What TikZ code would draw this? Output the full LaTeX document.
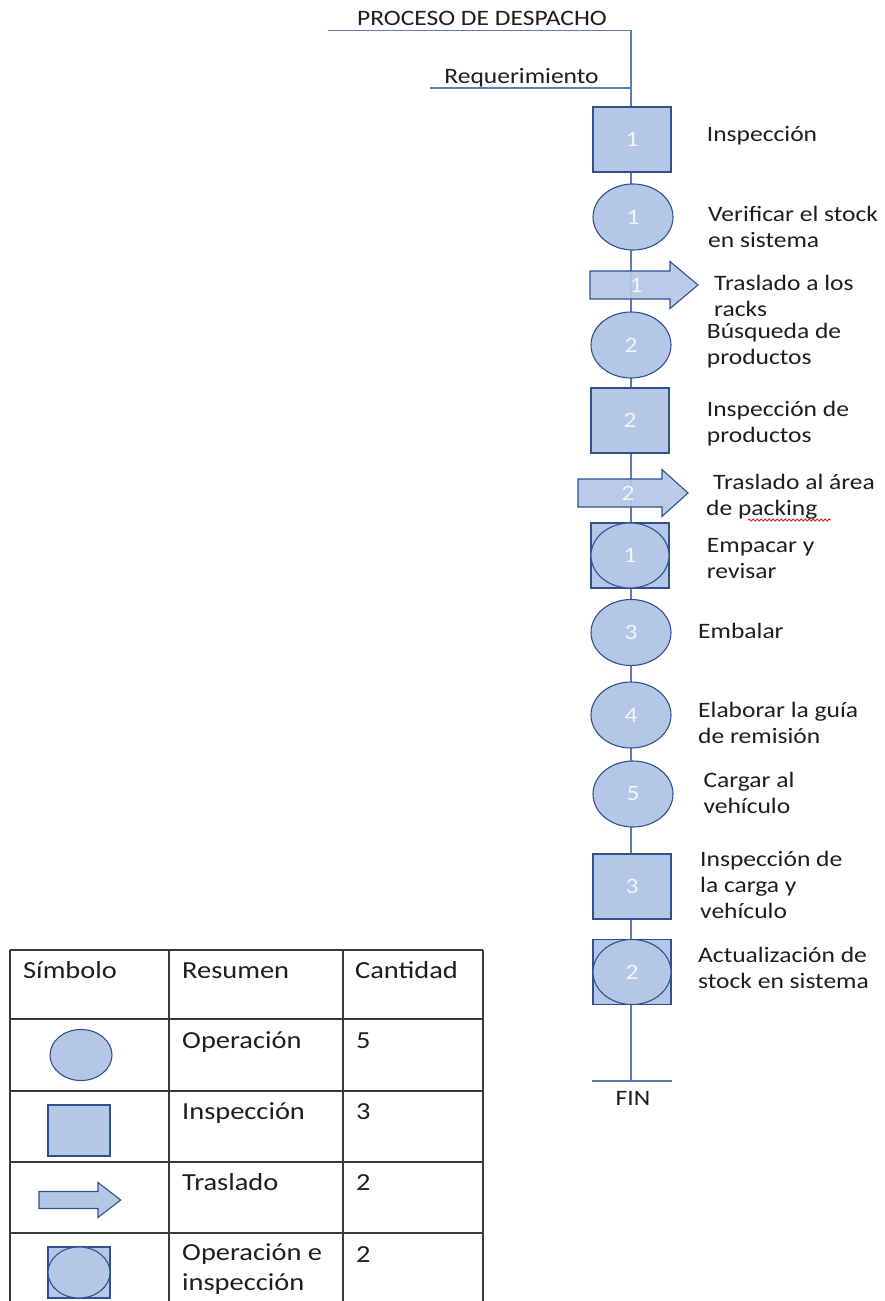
\documentclass[tikz,border=0pt]{standalone}
\usepackage{fontspec}
\setmainfont{Carlito}[FakeStretch=1.16]
\usetikzlibrary{shapes.geometric,decorations.pathmorphing}
\definecolor{shpfill}{HTML}{B4C7E7}
\definecolor{shpdraw}{HTML}{2F528F}
\definecolor{flowcol}{HTML}{5A7DB5}
\definecolor{txt}{HTML}{1E1E1E}
\definecolor{gridcol}{HTML}{3A3A3A}
\definecolor{numcol}{HTML}{F2F5FB}
\newcommand{\mainfs}{\fontsize{22}{26}\selectfont}
\newcommand{\tabfs}{\fontsize{24.5}{29.5}\selectfont}
\begin{document}
\begin{tikzpicture}[x=1pt,y=1pt,
  shp/.style={fill=shpfill,draw=shpdraw,line width=1.1pt,text=numcol,font=\mainfs,inner sep=0pt},
  sqbox/.style={shp,rectangle,minimum width=78pt,minimum height=65pt},
  opel/.style={shp,ellipse,minimum width=80pt,minimum height=66pt},
  inel/.style={shp,ellipse,minimum width=78pt,minimum height=65pt},
  arrowshp/.style={fill=shpfill,draw=shpdraw,line width=1.1pt,fill opacity=0.92,line join=miter},
  numtxt/.style={text=numcol,font=\mainfs,inner sep=0pt},
  flow/.style={draw=flowcol,line width=1.2pt},
  lbl/.style={anchor=base west,align=left,inner sep=0pt,font=\mainfs,text=txt},
  ttl/.style={anchor=base,inner sep=0pt,font=\mainfs,text=txt},
  tabtxt/.style={anchor=base west,align=left,inner sep=0pt,font=\tabfs,text=txt},
  gridline/.style={draw=gridcol,line width=1.4pt},
  tsym/.style={fill=shpfill,draw=shpdraw,line width=1.1pt,inner sep=0pt}
]
\useasboundingbox[fill=white] (0,0) rectangle (885,-1301);

% ---- flow line and header lines
\coordinate (top) at (631,-30.7);
\coordinate (pl) at (328,-30.7);
\coordinate (req) at (631,-88);
\coordinate (rl) at (430,-88);
\coordinate (fin) at (631,-1081);
\coordinate (finl) at (592,-1081);
\coordinate (finr) at (672,-1081);
\draw[flow] (pl) -- (top) -- (fin);
\draw[flow] (rl) -- (req);
\draw[flow] (finl) -- (finr);

\node[ttl] (title) at (482,-25) {PROCESO DE DESPACHO};
\node[ttl] (reqt) at (521.5,-83) {Requerimiento};
\node[ttl] (fint) at (633,-1105) {FIN};

% ---- process symbols
\node[sqbox] (s1) at (632,-139.5) {1};
\node[opel] (c1) at (633,-217) {1};
% arrow 1
\path[arrowshp] (590,-271) -- (670,-271) -- (670,-261.5) -- (698,-285) -- (670,-308.5) -- (670,-299) -- (590,-299) -- cycle;
\node[numtxt] (a1) at (636,-285) {1};
\node[opel] (c2) at (631,-345) {2};
\node[sqbox] (s2) at (630,-420.5) {2};
% arrow 2
\path[arrowshp] (578,-479) -- (662,-479) -- (662,-469.5) -- (688,-493) -- (662,-516.5) -- (662,-507) -- (578,-507) -- cycle;
\node[numtxt] (a2) at (628,-493) {2};
\node[sqbox] (k1s) at (630,-555.5) {};
\node[inel] (k1) at (630,-555.5) {1};
\node[opel] (c3) at (631,-632.5) {3};
\node[opel] (c4) at (631,-715) {4};
\node[opel] (c5) at (633,-794) {5};
\node[sqbox] (s3) at (632,-886.5) {3};
\node[sqbox] (k2s) at (632,-972) {};
\node[inel] (k2) at (632,-972) {2};

% ---- labels (base anchor = baseline of last line)
\node[lbl] (t1) at (706.7,-141.7) {Inspección};
\node[lbl] (t2) at (708,-247) {Verificar el stock\\en sistema};
\node[lbl] (t3) at (714,-316) {Traslado a los\\racks};
\node[lbl] (t4) at (706.7,-364.5) {Búsqueda de\\productos};
\node[lbl] (t5) at (706.7,-442.7) {Inspección de\\productos};
\node[lbl] (t6) at (706,-515) {\hspace*{7pt}Traslado al área\\de packing};
\draw[red!85!black,line width=0.7pt,decorate,decoration={snake,amplitude=1.1pt,segment length=4pt}] (748,-520) -- (831,-520);
\node[lbl] (t7) at (706.7,-578.3) {Empacar y\\revisar};
\node[lbl] (t8) at (698,-638.3) {Embalar};
\node[lbl] (t9) at (698,-743.3) {Elaborar la guía\\de remisión};
\node[lbl] (t10) at (703.3,-813.3) {Cargar al\\vehículo};
\node[lbl] (t11) at (700,-918.5) {Inspección de\\la carga y\\vehículo};
\node[lbl] (t12) at (698,-988.3) {Actualización de\\stock en sistema};

% ---- summary table
\foreach \yy in {950,1019,1091,1162,1233} {
  \draw[gridline] (10,-\yy) -- (483,-\yy);
}
\foreach \xx in {10,169,343,483} {
  \draw[gridline] (\xx,-950) -- (\xx,-1301);
}
\node[tabtxt] (h1) at (23,-978) {Símbolo};
\node[tabtxt] (h2) at (182,-978) {Resumen};
\node[tabtxt] (h3) at (355,-978) {Cantidad};
\node[tabtxt] (r1) at (182,-1048) {Operación};
\node[tabtxt] (q1) at (356,-1048) {5};
\node[tabtxt] (r2) at (182,-1119) {Inspección};
\node[tabtxt] (q2) at (356,-1119) {3};
\node[tabtxt] (r3) at (182,-1190) {Traslado};
\node[tabtxt] (q3) at (356,-1190) {2};
\node[tabtxt] (r4) at (182,-1290) {Operación e\\inspección};
\node[tabtxt] (q4) at (356,-1262) {2};

\node[tsym,ellipse,minimum width=62pt,minimum height=51pt] (ls1) at (81,-1055) {};
\node[tsym,rectangle,minimum width=62pt,minimum height=51pt] (ls2) at (79,-1130.5) {};
\path[tsym] (39,-1191.5) -- (98,-1191.5) -- (98,-1182.5) -- (120.7,-1200) -- (98,-1217.5) -- (98,-1208.5) -- (39,-1208.5) -- cycle;
\node[tsym,rectangle,minimum width=62pt,minimum height=51pt] (ls4) at (79,-1272.5) {};
\node[tsym,ellipse,minimum width=62pt,minimum height=51pt] (ls4e) at (79,-1272.5) {};
\end{tikzpicture}
\end{document}
